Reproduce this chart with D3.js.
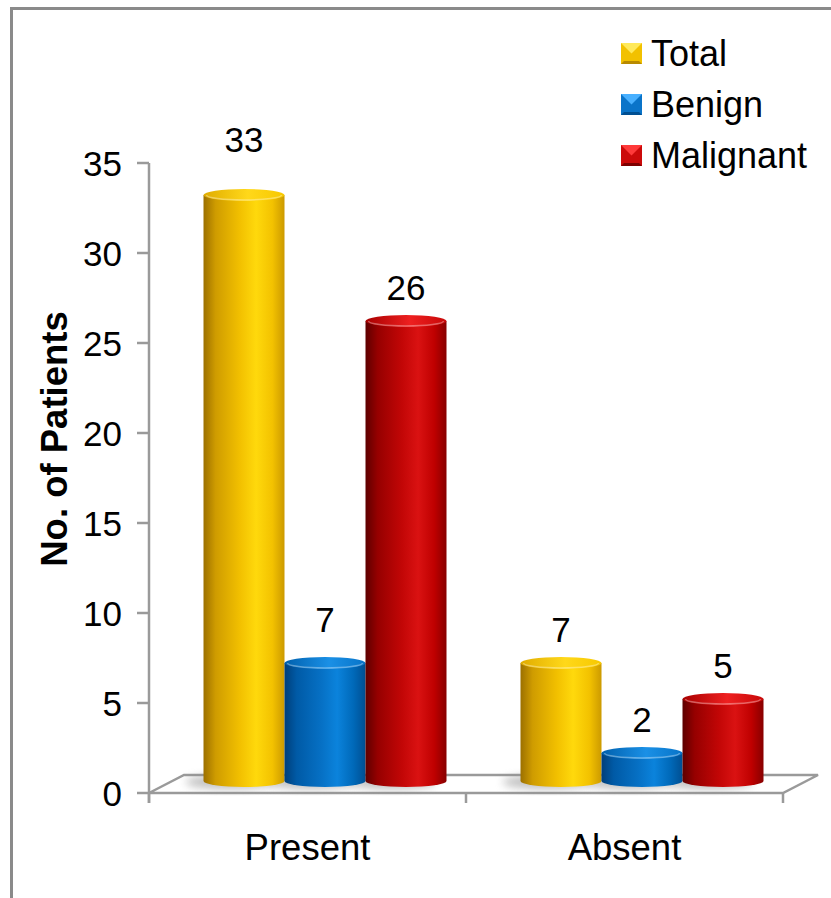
<!DOCTYPE html>
<html>
<head>
<meta charset="utf-8">
<script src="https://cdn.jsdelivr.net/npm/d3@7"></script>
<style>
  html, body { margin: 0; padding: 0; background: #fff; }
  svg { display: block; }
  text { font-family: "Liberation Sans", Arial, sans-serif; fill: #000; }
</style>
</head>
<body>
<svg id="chart" width="831" height="898"></svg>
<script>
// Patient counts by finding and diagnosis
const categories = ["Present", "Absent"];
const series = ["Total", "Benign", "Malignant"];
const totalValues = [33, 7];
const benignValues = [7, 2];
const malignantValues = [26, 5];
const yTicks = [0, 5, 10, 15, 20, 25, 30, 35];
const yTitle = "No. of Patients";

const valuesBySeries = { Total: totalValues, Benign: benignValues, Malignant: malignantValues };

const svg = d3.select("#chart");
const defs = svg.append("defs");

// Frame
svg.append("path")
  .attr("d", "M11.5,898 L11.5,8.5 L831,8.5")
  .attr("fill", "none").attr("stroke", "#8a8a8a").attr("stroke-width", 3);

// Plot geometry (front plane of the 3-D floor)
const left = 149, right = 783, floorY = 793;
const depthX = 35, depthY = -18;

const y = d3.scaleLinear().domain([0, 35]).range([floorY, 163]);
const x = d3.scaleBand().domain(categories).range([left, right]);
const groupWidth = 243;
const xInner = d3.scaleBand().domain(series).range([0, groupWidth]);

// Colour ramps for the cylinder sides and tops
const palette = {
  Total:     { side: ["#9c7000", "#cf9c00", "#f2c000", "#ffd90c", "#f3c200", "#cc9a00"], top: ["#e0ac00", "#ffd81a", "#f7c800"] },
  Benign:    { side: ["#003f7a", "#005aa6", "#0670c4", "#0b83dc", "#0069b9", "#004f92"], top: ["#0060ad", "#1a90e6", "#0874c8"] },
  Malignant: { side: ["#5e0000", "#960000", "#c20606", "#da1212", "#bf0000", "#870000"], top: ["#a80000", "#ee2020", "#c80808"] }
};
const sideOffsets = [0, 0.15, 0.45, 0.65, 0.85, 1];

series.forEach(s => {
  const g = defs.append("linearGradient").attr("id", "side-" + s)
    .attr("x1", "0").attr("x2", "1").attr("y1", "0").attr("y2", "0");
  palette[s].side.forEach((c, i) => g.append("stop").attr("offset", sideOffsets[i]).attr("stop-color", c));
  const t = defs.append("linearGradient").attr("id", "top-" + s)
    .attr("x1", "0").attr("x2", "1").attr("y1", "0").attr("y2", "0");
  palette[s].top.forEach((c, i) => t.append("stop").attr("offset", [0, 0.55, 1][i]).attr("stop-color", c));
});

const shadow = defs.append("filter").attr("id", "soft").attr("x", "-50%").attr("y", "-50%").attr("width", "200%").attr("height", "200%");
shadow.append("feGaussianBlur").attr("stdDeviation", 4);

// Floor
const floor = svg.append("g").attr("fill", "none").attr("stroke", "#9a9a9a").attr("stroke-width", 2.5);
floor.append("path")
  .attr("d", `M${left},${floorY} L${left + depthX},${floorY + depthY} L${right + depthX},${floorY + depthY} L${right},${floorY} Z`)
  .attr("fill", "#fff");

// Y axis with ticks
const axisG = svg.append("g");
axisG.append("line")
  .attr("x1", left).attr("x2", left).attr("y1", y(35)).attr("y2", floorY + 10)
  .attr("stroke", "#9a9a9a").attr("stroke-width", 2.5);
axisG.selectAll("line.tick").data(yTicks).join("line").attr("class", "tick")
  .attr("x1", left - 12).attr("x2", left).attr("y1", d => y(d)).attr("y2", d => y(d))
  .attr("stroke", "#9a9a9a").attr("stroke-width", 2.5);
axisG.selectAll("text.tl").data(yTicks).join("text").attr("class", "tl")
  .attr("x", 122).attr("y", d => y(d)).attr("dy", "0.36em")
  .attr("text-anchor", "end").attr("font-size", 35).text(d => d);

// Category ticks on the front floor edge
const boundaries = [left, ...categories.map(c => x(c) + x.bandwidth())];
svg.selectAll("line.ct").data(boundaries).join("line").attr("class", "ct")
  .attr("x1", d => d).attr("x2", d => d).attr("y1", floorY).attr("y2", floorY + 10)
  .attr("stroke", "#9a9a9a").attr("stroke-width", 2.5);

// Category labels
svg.selectAll("text.cat").data(categories).join("text").attr("class", "cat")
  .attr("x", d => x(d) + x.bandwidth() / 2).attr("y", 860)
  .attr("text-anchor", "middle").attr("font-size", 36.5).text(d => d);

// Cylinders, standing mid-depth on the floor
const ry = 6;
const baseY = floorY - 12;
const barTop = v => y(v) - 4;
const bars = [];
categories.forEach((c, ci) => {
  series.forEach(s => {
    const x0 = x(c) + (x.bandwidth() - groupWidth) / 2 + depthX / 2 + xInner(s);
    bars.push({ cat: c, s, v: valuesBySeries[s][ci], x0, w: xInner.bandwidth() });
  });
});

const shadowsG = svg.append("g");
shadowsG.selectAll("ellipse").data(bars).join("ellipse")
  .attr("cx", d => d.x0 + d.w / 2 - 14).attr("cy", baseY + 1)
  .attr("rx", d => d.w / 2 + 4).attr("ry", ry + 1)
  .attr("fill", "#8a8a8a").attr("opacity", 0.55).attr("filter", "url(#soft)");

const barG = svg.append("g").selectAll("g").data(bars).join("g");
barG.append("path")
  .attr("d", d => {
    const x0 = d.x0, x1 = d.x0 + d.w, rx = d.w / 2, t = barTop(d.v);
    return `M${x0},${t} L${x0},${baseY} A${rx},${ry} 0 0 0 ${x1},${baseY} L${x1},${t} Z`;
  })
  .attr("fill", d => `url(#side-${d.s})`);
barG.append("ellipse")
  .attr("cx", d => d.x0 + d.w / 2).attr("cy", d => barTop(d.v))
  .attr("rx", d => d.w / 2).attr("ry", ry)
  .attr("fill", d => `url(#top-${d.s})`);
barG.append("path")
  .attr("d", d => {
    const x0 = d.x0 + 3, x1 = d.x0 + d.w - 3, rx = d.w / 2 - 3, t = barTop(d.v);
    return `M${x0},${t} A${rx},${ry - 1} 0 0 0 ${x1},${t}`;
  })
  .attr("fill", "none").attr("stroke", "#ffffff").attr("stroke-opacity", 0.35).attr("stroke-width", 1.5);

// Value labels
const labelNudge = { "Present|Total": -22, "Present|Benign": -10 };
svg.selectAll("text.val").data(bars).join("text").attr("class", "val")
  .attr("x", d => d.x0 + d.w / 2)
  .attr("y", d => barTop(d.v) - 21 + (labelNudge[d.cat + "|" + d.s] || 0))
  .attr("text-anchor", "middle").attr("font-size", 35).text(d => d.v);

// Axis title
svg.append("text")
  .attr("transform", `translate(67,439) rotate(-90)`)
  .attr("text-anchor", "middle").attr("font-size", 36.5).attr("font-weight", "bold")
  .text(yTitle);

// Legend with bevelled swatches
const legend = svg.append("g");
const swatchColors = {
  Total:     { top: "#ffe95a", side: "#f2c100", bottom: "#b88a00" },
  Benign:    { top: "#48b0ff", side: "#0a74c9", bottom: "#004f92" },
  Malignant: { top: "#ff3a3a", side: "#cc0a0a", bottom: "#7e0000" }
};
series.forEach((s, i) => {
  const lx = 621, ly = 43 + i * 51, sz = 21, c = swatchColors[s];
  const g = legend.append("g");
  g.append("rect").attr("x", lx).attr("y", ly).attr("width", sz).attr("height", sz).attr("fill", c.side);
  g.append("polygon").attr("points", `${lx},${ly} ${lx + sz},${ly} ${lx + sz / 2},${ly + sz / 2}`).attr("fill", c.top);
  g.append("polygon").attr("points", `${lx},${ly + sz} ${lx + sz},${ly + sz} ${lx + sz - 3},${ly + sz - 3} ${lx + 3},${ly + sz - 3}`).attr("fill", c.bottom);
  g.append("text").attr("x", 651).attr("y", ly + 23).attr("font-size", 36).text(s);
});
</script>
</body>
</html>
